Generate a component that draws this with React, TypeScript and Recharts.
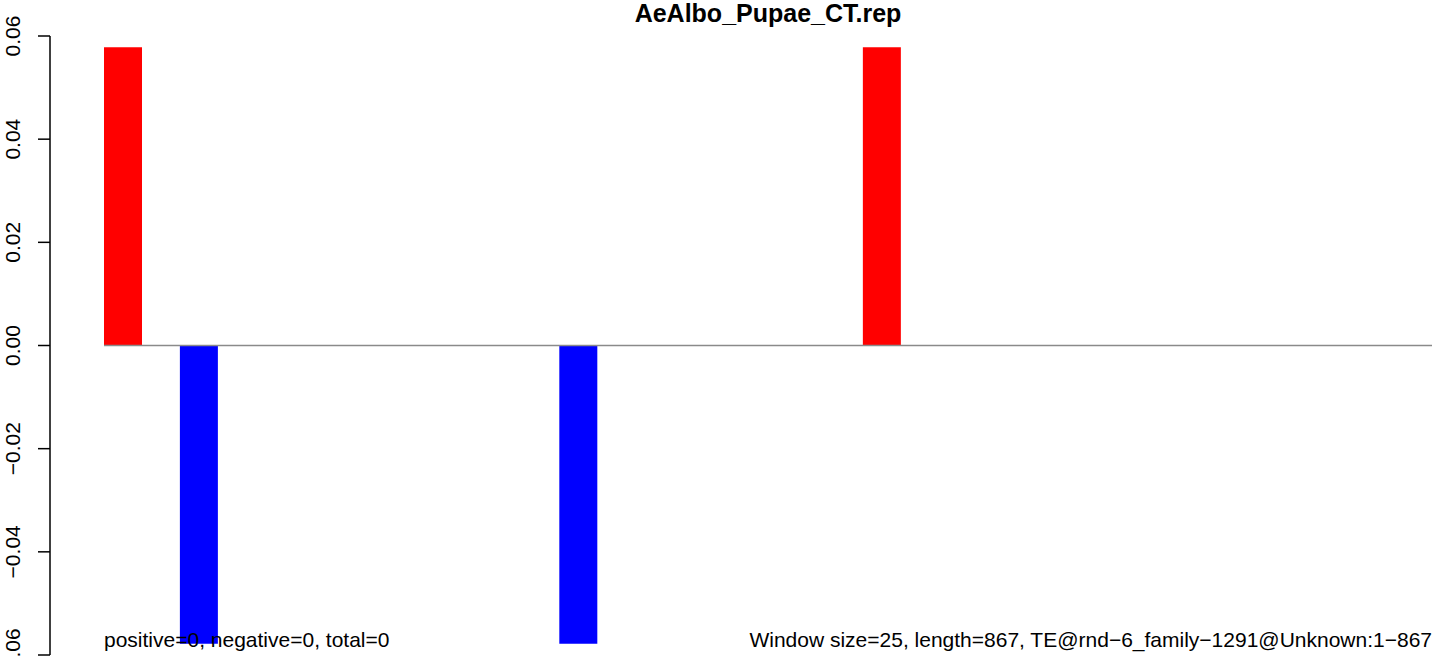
import React from "react";
import { BarChart, Bar, XAxis, YAxis, ReferenceLine, Cell } from "recharts";

// 867 bp split in windows of 25 -> 35 windows
const windows = Array.from({ length: 35 }, (_, i) => `w${i + 1}`);
const values = [
  0.0578, 0, -0.0578, 0, 0, 0, 0, 0, 0, 0, 0, 0, -0.0578, 0, 0, 0, 0, 0, 0, 0,
  0.0578, 0, 0, 0, 0, 0, 0, 0, 0, 0, 0, 0, 0, 0, 0,
];
const yTicks = [-0.06, -0.04, -0.02, 0, 0.02, 0.04, 0.06];

const title = "AeAlbo_Pupae_CT.rep";
const leftNote = "positive=0, negative=0, total=0";
const rightNote =
  "Window size=25, length=867, TE@rnd\u22126_family\u22121291@Unknown:1\u2212867";

const W = 1444;
const H = 656;
const PAD_LEFT = 54;
const FONT = '"Liberation Sans", Arial, Helvetica, sans-serif';

const chartData = windows.map((w, i) => ({ win: w, value: values[i] }));

const fmt = (v: number) => {
  const s = Math.abs(v).toFixed(2);
  return v < 0 ? `\u2212${s}` : s;
};

const YTick = ({ x, y, payload }: any) => (
  <text
    x={x - 16}
    y={y}
    transform={`rotate(-90, ${x - 16}, ${y})`}
    textAnchor="middle"
    fontSize={21}
    fontFamily={FONT}
    fill="#000"
  >
    {fmt(payload.value)}
  </text>
);

// zero line only spans the bar region, like abline in the original
const ZeroLine = ({ x1, y1, x2, y2 }: any) => (
  <line
    x1={x1 + PAD_LEFT}
    y1={y1}
    x2={x2}
    y2={y2}
    stroke="#8a8a8a"
    strokeWidth={1.5}
  />
);

export default function App() {
  return (
    <div
      style={{
        position: "absolute",
        left: 0,
        top: 0,
        width: W,
        height: H,
        background: "#fff",
      }}
    >
      <BarChart
        width={W}
        height={H}
        data={chartData}
        margin={{ top: 36, right: 12, bottom: 1, left: 0 }}
        barCategoryGap={0}
      >
        <XAxis dataKey="win" hide padding={{ left: PAD_LEFT, right: 0 }} />
        <YAxis
          width={50}
          domain={[-0.06, 0.06]}
          ticks={yTicks}
          interval={0}
          tickSize={12}
          tick={<YTick />}
          axisLine={{ stroke: "#000", strokeWidth: 1.5 }}
          tickLine={{ stroke: "#000", strokeWidth: 1.5 }}
          allowDataOverflow
        />
        <Bar dataKey="value" isAnimationActive={false}>
          {chartData.map((d, i) => (
            <Cell key={i} fill={d.value >= 0 ? "#ff0000" : "#0000ff"} />
          ))}
        </Bar>
        <ReferenceLine y={0} shape={<ZeroLine />} />
      </BarChart>
      <svg
        width={W}
        height={H}
        style={{ position: "absolute", left: 0, top: 0, pointerEvents: "none" }}
      >
        <text
          x={768}
          y={22}
          textAnchor="middle"
          fontSize={25}
          fontWeight="bold"
          fontFamily={FONT}
          fill="#000"
        >
          {title}
        </text>
        <text x={104} y={647} fontSize={21} fontFamily={FONT} fill="#000">
          {leftNote}
        </text>
        <text
          x={1432}
          y={647}
          textAnchor="end"
          fontSize={21}
          fontFamily={FONT}
          fill="#000"
        >
          {rightNote}
        </text>
      </svg>
    </div>
  );
}
